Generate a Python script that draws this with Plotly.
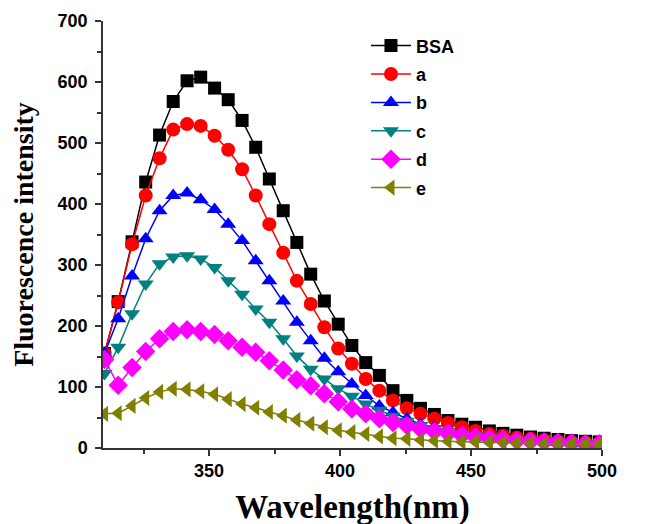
import plotly.graph_objects as go

wavelength = [310.1, 315.3, 320.6, 325.8, 331.1, 336.3, 341.6, 346.8, 352.1, 357.3,
              362.6, 367.8, 373.0, 378.3, 383.5, 388.8, 394.0, 399.3, 404.5, 409.8,
              415.0, 420.2, 425.5, 430.7, 436.0, 441.2, 446.5, 451.7, 457.0, 462.2,
              467.5, 472.7, 477.9, 483.2, 488.4, 493.7, 498.9]

bsa = [155, 240, 338, 436, 513, 568, 602, 608, 590, 571,
       537, 493, 441, 389, 337, 285, 241, 203, 168, 140,
       119, 94, 78, 65, 55, 45, 39, 34, 28, 24,
       21, 18, 16, 14, 12, 11, 10]
a = [155, 239, 334, 414, 475, 522, 531, 528, 512, 489,
     457, 414, 367, 320, 274, 236, 198, 163, 138, 113,
     94, 78, 65, 56, 48, 41, 34, 28, 23, 20,
     17, 15, 13, 11, 10, 9, 8]
b = [155, 212, 282, 343, 389, 414, 418, 407, 391, 367,
     340, 307, 274, 241, 206, 176, 147, 125, 105, 86,
     69, 58, 48, 39, 34, 29, 25, 22, 19, 17,
     15, 13, 12, 10, 9, 8, 7]
c = [122, 165, 220, 269, 302, 313, 315, 310, 296, 274,
     252, 228, 206, 179, 151, 129, 113, 97, 85, 72,
     62, 52, 44, 37, 32, 27, 23, 20, 17, 15,
     13, 12, 10, 9, 8, 7, 6]
d = [145, 103, 132, 158, 179, 191, 194, 191, 186, 176,
     165, 157, 143, 128, 112, 102, 89, 76, 64, 56,
     48, 42, 37, 31, 27, 24, 21, 18, 16, 14,
     12, 11, 10, 9, 8, 7, 7]
e = [56, 57, 69, 82, 92, 97, 96, 93, 88, 80,
     72, 66, 59, 53, 46, 40, 34, 29, 26, 23,
     19, 16, 15, 13, 12, 11, 10, 10, 9, 9,
     8, 8, 7, 7, 6, 6, 6]

names = ["BSA", "a", "b", "c", "d", "e"]
series = [bsa, a, b, c, d, e]
colors = ["#000000", "#FF0000", "#0000FF", "#008080", "#FF00FF", "#808000"]
symbols = ["square", "circle", "triangle-up", "triangle-down", "diamond", "triangle-left"]
sizes = [13, 14, 14, 14, 15, 14]

fig = go.Figure()
for i, (nm, ys) in enumerate(zip(names, series)):
    fig.add_trace(go.Scatter(
        x=wavelength, y=ys, name=nm, mode="lines+markers",
        line=dict(color=colors[i], width=1.5),
        marker=dict(symbol=symbols[i], size=sizes[i], color=colors[i]),
        legendgroup=nm,
    ))

fig.update_layout(
    width=650, height=524,
    margin=dict(l=95, r=56, t=13, b=84, autoexpand=False),
    plot_bgcolor="white", paper_bgcolor="white",
    showlegend=True,
    legend=dict(x=0.527, y=0.985, xanchor="left", yanchor="top",
                font=dict(family="Liberation Sans, Arial", size=18, color="black", weight="bold"),
                bgcolor="rgba(0,0,0,0)", tracegroupgap=2, traceorder="grouped",
                itemwidth=40),
    font=dict(family="Liberation Sans, Arial", color="black"),
)
fig.update_xaxes(
    range=[309.5, 500], showline=True, linecolor="#333", linewidth=1.5, automargin=False,
    tickvals=[350, 400, 450, 500], ticks="outside", ticklen=6, tickwidth=1.5, tickcolor="#333",
    minor=dict(tickvals=[325, 375, 425, 475], ticks="outside", ticklen=4, tickwidth=1.5, tickcolor="#333"),
    showgrid=False, zeroline=False,
    tickfont=dict(family="Liberation Sans, Arial", size=18, color="black", weight="bold"),
    title=dict(text="<b>Wavelength(nm)</b>", standoff=15,
               font=dict(family="Liberation Serif, Times New Roman", size=33, color="black")),
)
fig.update_yaxes(
    range=[0, 700], showline=True, linecolor="#333", linewidth=1.5, automargin=False,
    tickvals=[0, 100, 200, 300, 400, 500, 600, 700], ticks="outside", ticklen=6, tickwidth=1.5, tickcolor="#333",
    minor=dict(tickvals=[50, 150, 250, 350, 450, 550, 650], ticks="outside", ticklen=4, tickwidth=1.5, tickcolor="#333"),
    showgrid=False, zeroline=False, ticklabelstandoff=4,
    tickfont=dict(family="Liberation Sans, Arial", size=18, color="black", weight="bold"),
    title=dict(text="<b>Fluorescence intensity</b>", standoff=16,
               font=dict(family="Liberation Serif, Times New Roman", size=28, color="black")),
)

fig.write_html("out.html")
